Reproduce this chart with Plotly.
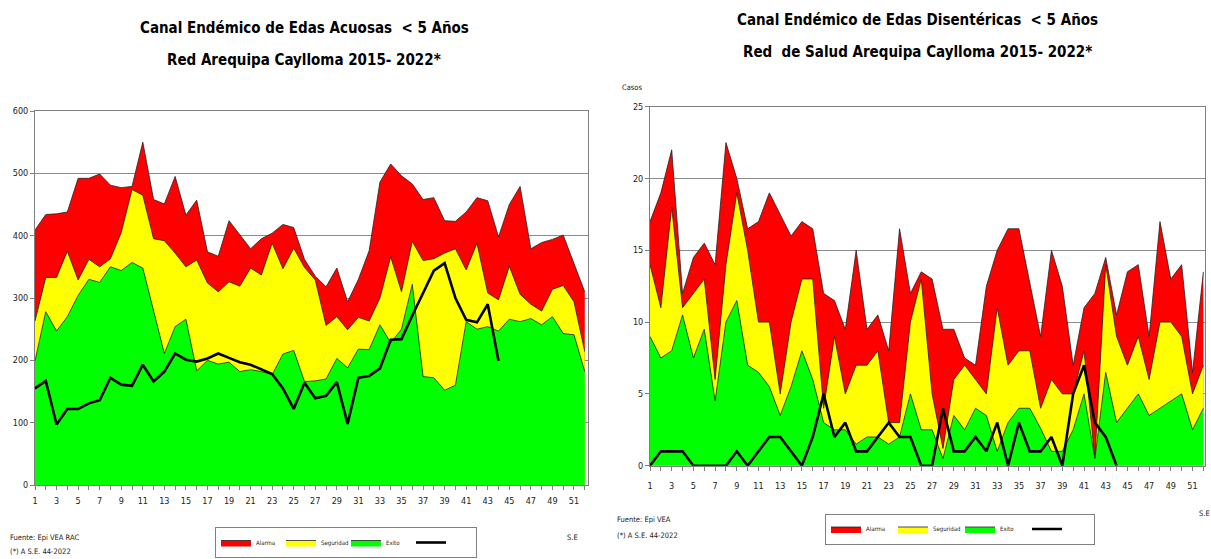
import plotly.graph_objects as go

W, H = 1211, 559
FONT = "DejaVu Sans Condensed, Liberation Sans Narrow, Arial Narrow, sans-serif"

weeks = list(range(1, 53))
tick_text = ["1", "", "3", "", "5", "", "7", "", "9", "", "11", "", "13", "", "15", "", "17", "", "19", "",
             "21", "", "23", "", "25", "", "27", "", "29", "", "31", "", "33", "", "35", "", "37", "", "39", "",
             "41", "", "43", "", "45", "", "47", "", "49", "", "51", ""]

# ---- Left chart: EDA acuosas ----
acu_alarma = [409, 434, 435, 438, 492, 492, 499, 481, 477, 479, 550, 458, 451, 495, 433, 457, 374, 367, 424, 401,
              379, 395, 404, 418, 413, 362, 335, 318, 348, 294, 330, 376, 486, 515, 496, 483, 458, 461, 424, 423,
              438, 461, 456, 398, 450, 479, 379, 389, 394, 401, 355, 310]
acu_seguridad = [263, 333, 333, 375, 329, 362, 350, 363, 405, 474, 465, 395, 392, 372, 350, 361, 324, 310, 326, 319,
                 348, 337, 388, 347, 380, 349, 329, 256, 270, 249, 269, 263, 300, 366, 310, 391, 360, 363, 372, 379,
                 345, 388, 308, 297, 351, 306, 290, 279, 314, 320, 294, 214]
acu_exito = [199, 278, 247, 270, 304, 330, 325, 350, 344, 357, 348, 280, 211, 254, 266, 183, 200, 194, 197, 182,
             185, 182, 177, 210, 216, 166, 167, 170, 203, 188, 218, 217, 257, 228, 250, 322, 174, 172, 152, 160,
             262, 250, 254, 247, 266, 262, 267, 257, 270, 243, 241, 182]
acu_2022 = [155, 167, 97, 122, 122, 131, 136, 172, 161, 159, 193, 166, 182, 211, 201, 198, 203, 211, 204, 197,
            193, 185, 178, 155, 122, 164, 139, 143, 165, 98, 172, 175, 187, 233, 234, 272, 308, 344, 356, 300,
            265, 261, 290, 199, None, None, None, None, None, None, None, None]

# ---- Right chart: EDA disentéricas ----
dis_alarma = [17, 19, 22, 12, 14.5, 15.5, 14, 22.5, 20, 16.5, 17, 19, 17.5, 16, 17, 16.5, 12, 11.5, 9.5, 15,
              9.5, 10.5, 8, 16.5, 12, 13.5, 13, 9.5, 9.5, 7.5, 7, 12.5, 15, 16.5, 16.5, 12.8, 9, 15, 12.5, 7,
              11, 12, 14.5, 10.5, 13.5, 14, 9, 17, 13, 14, 6.5, 13.5]
dis_seguridad = [14, 11, 18, 11, 12, 13, 6, 14, 19, 15, 10, 10, 5, 10, 13, 13, 4, 9, 5, 7,
                 7, 8, 3, 3, 10, 13, 5, 1.2, 6, 7, 6, 5, 11, 7, 8, 8, 4, 6, 5, 5,
                 8, 0.5, 14, 9, 7, 9, 6, 10, 10, 9, 5, 7]
dis_exito = [9, 7.5, 8, 10.5, 7.5, 9.5, 4.5, 10, 11.5, 7, 6.5, 5.5, 3.5, 5.5, 8, 6, 3, 2.5, 2.5, 1.5,
             2, 2, 1.5, 2, 5, 2.5, 2.5, 0.5, 3.5, 2.5, 4, 3.5, 1, 3, 4, 4, 2.6, 1, 1, 2.5,
             5, 0.5, 6.5, 3, 4, 5, 3.5, 4, 4.5, 5, 2.5, 4]
dis_2022 = [0, 1, 1, 1, 0, 0, 0, 0, 1, 0, 1, 2, 2, 1, 0, 2, 5, 2, 3, 1,
            1, 2, 3, 2, 2, 0, 0, 4, 1, 1, 2, 1, 3, 0, 3, 1, 1, 2, 0, 5,
            7, 3, 2, 0, None, None, None, None, None, None, None, None]

legend_names = ["Alarma", "Seguridad", "Exito", " "]
colors = ["#FF0000", "#FFFF00", "#00FF00"]


def px(x):
    return x / W


def py(y):
    return 1 - y / H


fig = go.Figure()

for (series, leg, xa, ya) in [
    ((acu_alarma, acu_seguridad, acu_exito, acu_2022), "legend", "x", "y"),
    ((dis_alarma, dis_seguridad, dis_exito, dis_2022), "legend2", "x2", "y2"),
]:
    for vals, name, col in zip(series[:3], legend_names[:3], colors):
        fig.add_trace(go.Scatter(
            x=weeks, y=vals, name=name, mode="lines", fill="tozeroy",
            fillcolor=col, line=dict(color="#222222", width=0.8),
            xaxis=xa, yaxis=ya, legend=leg, hoverinfo="skip"))
    fig.add_trace(go.Scatter(
        x=weeks, y=series[3], name=legend_names[3], mode="lines",
        line=dict(color="#000000", width=2.6), xaxis=xa, yaxis=ya,
        legend=leg, connectgaps=False))

axis_common = dict(showgrid=False, zeroline=False, showline=True, linecolor="#7f7f7f",
                   linewidth=1, mirror=True, ticks="outside", ticklen=4, tickcolor="#7f7f7f",
                   tickfont=dict(family=FONT, size=9, color="#222222"))
ygrid = dict(showgrid=True, gridcolor="#8c8c8c", gridwidth=1)

fig.update_layout(
    width=W, height=H, paper_bgcolor="white", plot_bgcolor="white",
    margin=dict(l=0, r=0, t=0, b=0, autoexpand=False),
    font=dict(family=FONT, color="#222222"),
    xaxis=dict(domain=[px(35), px(588)], range=[1, 52.3], tickvals=weeks, ticktext=tick_text,
               anchor="y", ticklabelstandoff=3, **axis_common),
    yaxis=dict(domain=[py(485), py(111)], range=[0, 600], dtick=100, anchor="x",
               **{**axis_common, **ygrid}),
    xaxis2=dict(domain=[px(650), px(1205)], range=[1, 52.15], tickvals=weeks, ticktext=tick_text,
                anchor="y2", ticklabelstandoff=7, **axis_common),
    yaxis2=dict(domain=[py(465.7), py(106.7)], range=[0, 25], dtick=5, anchor="x2",
                **{**axis_common, **ygrid}),
    legend=dict(orientation="h", x=px(215), y=py(558), xanchor="left", yanchor="bottom",
                bordercolor="#808080", borderwidth=1, bgcolor="white",
                font=dict(family=FONT, size=6), entrywidth=20, itemwidth=30,
                tracegroupgap=0),
    legend2=dict(orientation="h", x=px(825), y=py(529), xanchor="left", yanchor="middle",
                 bordercolor="#808080", borderwidth=1, bgcolor="white",
                 font=dict(family=FONT, size=6), entrywidth=22, itemwidth=30,
                 tracegroupgap=0),
    showlegend=True,
)

title_font = dict(family=FONT, size=15, color="#000000")
ann = [
    dict(text="<b>Canal Endémico de Edas Acuosas \u00a0< 5 Años</b>", x=px(304), y=py(28)),
    dict(text="<b>Red Arequipa Caylloma 2015- 2022*</b>", x=px(304), y=py(60)),
    dict(text="<b>Canal Endémico de Edas Disentéricas \u00a0< 5 Años</b>", x=px(917), y=py(20)),
    dict(text="<b>Red \u00a0de Salud Arequipa Caylloma 2015- 2022*</b>", x=px(917), y=py(52)),
]
for a in ann:
    fig.add_annotation(xref="paper", yref="paper", xanchor="center", yanchor="middle",
                       showarrow=False, font=title_font, **a)

small = dict(family=FONT, size=7.5, color="#222222")
notes = [
    ("Fuente: Epi VEA RAC", 8, 537, "left"),
    ("(*) A S.E. 44-2022", 8, 551, "left"),
    ("S.E", 572, 537, "center"),
    ("Casos", 632, 87, "center"),
    ("Fuente: Epi VEA", 615, 519, "left"),
    ("(*) A S.E. 44-2022", 615, 535, "left"),
    ("S.E", 1204, 513, "center"),
]
for t, x, y, anc in notes:
    fig.add_annotation(text=t, xref="paper", yref="paper", x=px(x), y=py(y), xanchor=anc,
                       yanchor="middle", showarrow=False, font=small)

fig.write_html("out.html", config={"displayModeBar": False},
               post_script="document.body.style.margin='0px';")
